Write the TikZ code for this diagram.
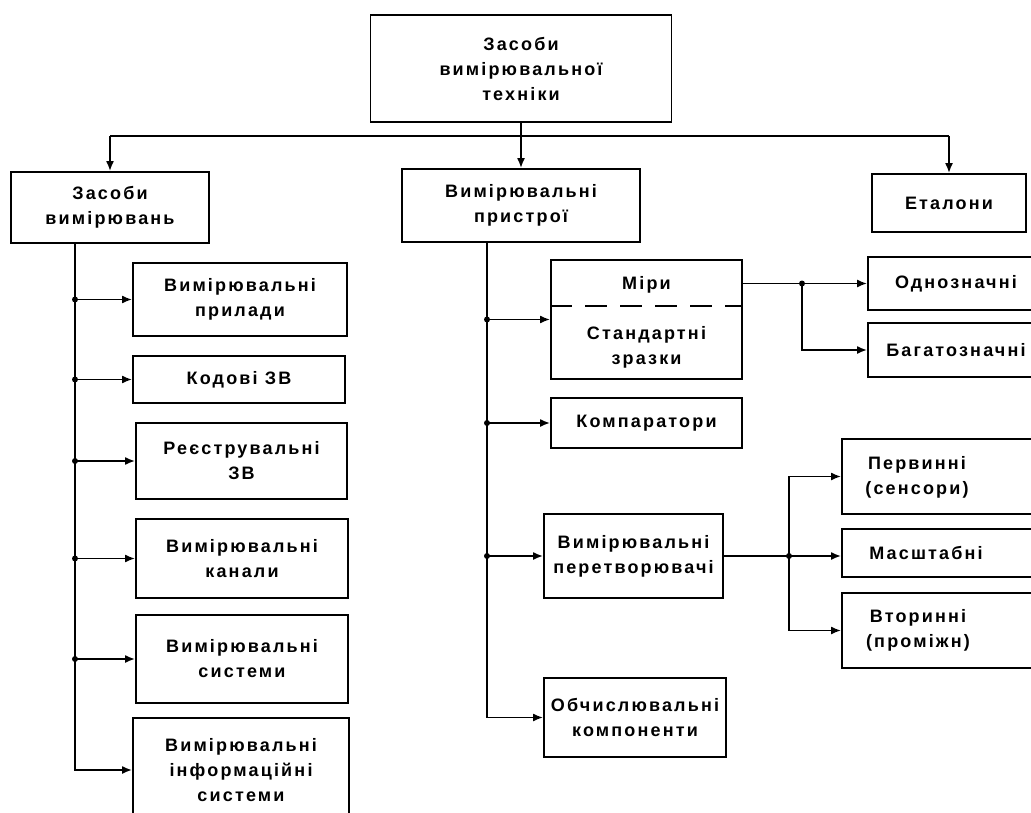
\documentclass[tikz,border=0pt]{standalone}
\usepackage{fontspec}
\setmainfont{Liberation Sans}[LetterSpace=12]
\usetikzlibrary{arrows.meta}
\begin{document}
\begin{tikzpicture}[x=1pt,y=-1pt,
  txt/.style={inner sep=0pt,align=center,font=\fontsize{18}{25}\selectfont\bfseries},
  box/.style={txt,draw,line width=1.8pt},
  ln/.style={line width=1.8pt},
  arr/.style={line width=1.8pt,-{Latex[length=10pt,width=8pt]}},
  jdot/.style={circle,fill,inner sep=0pt,minimum size=6pt}]
\useasboundingbox (0,0) rectangle (1031,813);
\clip (0,0) rectangle (1031,813);
% boxes
\node[box,minimum width=301pt,minimum height=107pt] (top) at (521,68.5) {Засоби\\вимірювальної\\техніки};
\node[box,minimum width=198pt,minimum height=71pt] (zv) at (110,207.5) {Засоби\\вимірювань};
\node[box,minimum width=238pt,minimum height=73pt] (vp) at (521,205.5) {Вимірювальні\\пристрої};
\node[box,minimum width=154pt,minimum height=58pt] (et) at (949,203) {Еталони};
\node[box,minimum width=214pt,minimum height=73pt] (L1) at (240,299.5) {Вимірювальні\\прилади};
\node[box,minimum width=212pt,minimum height=47pt] (L2) at (239,379.5) {Кодові ЗВ};
\node[box,minimum width=211pt,minimum height=76pt] (L3) at (241.5,461) {Реєструвальні\\ЗВ};
\node[box,minimum width=212pt,minimum height=79pt] (L4) at (242,558.5) {Вимірювальні\\канали};
\node[box,minimum width=212pt,minimum height=88pt] (L5) at (242,659) {Вимірювальні\\системи};
\node[box,minimum width=216pt,minimum height=104pt] (L6) at (241,770) {Вимірювальні\\інформаційні\\системи};
\node[box,minimum width=191pt,minimum height=119pt] (miry) at (646.5,319.5) {};
\node[txt] (miryT) at (646.5,285) {Міри};
\node[txt] (stT) at (646.5,347) {Стандартні\\зразки};
\node[box,minimum width=191pt,minimum height=50pt] (komp) at (646.5,423) {Компаратори};
\node[box,minimum width=179pt,minimum height=84pt] (pt) at (633.5,556) {Вимірювальні\\перетворювачі};
\node[box,minimum width=182pt,minimum height=79pt] (obch) at (635,717.5) {Обчислювальні\\компоненти};
\node[box,minimum width=176pt,minimum height=53pt] (odn) at (956,283.5) {Однозначні};
\node[box,minimum width=176pt,minimum height=54pt] (bag) at (956,350) {Багатозначні};
\node[box,minimum width=206pt,minimum height=75pt] (perv) at (945,476.5) {};
\node[txt] (pervT) at (917,477) {Первинні\\(сенсори)};
\node[box,minimum width=206pt,minimum height=48pt] (mas) at (945,553) {};
\node[txt] (masT) at (926,553) {Масштабні};
\node[box,minimum width=206pt,minimum height=75pt] (vtor) at (945,630.5) {};
\node[txt] (vtorT) at (918,630) {Вторинні\\(проміжн)};
% dashed divider
\coordinate (dashY) at (0,306);
\draw[ln,dash pattern=on 22pt off 13pt] (miry.west |- dashY) -- (miry.east |- dashY);
% top connectors
\coordinate (busL) at (110,136);
\coordinate (busR) at (949,136);
\draw[ln] (busL) -- (busR);
\draw[arr] (top.south) -- (vp.north);
\draw[arr] (busL) -- (zv.north);
\draw[arr] (busR) -- (et.north);
% left trunk
\coordinate (tL) at (75,0);
\draw[arr] (zv.south -| tL) |- (L6.west);
\foreach \n in {L1,L2,L3,L4,L5}{
  \draw[arr] (tL |- \n.west) -- (\n.west);
  \node[jdot] (d\n) at (tL |- \n.west) {};
}
% middle trunk
\coordinate (tM) at (487,0);
\draw[arr] (vp.south -| tM) |- (obch.west);
\foreach \n in {miry,komp,pt}{
  \draw[arr] (tM |- \n.west) -- (\n.west);
  \node[jdot] (d\n) at (tM |- \n.west) {};
}
% Міри branches
\coordinate (jM) at (802,0);
\draw[arr] (miry.east |- odn.west) -- (odn.west);
\draw[arr] (jM |- odn.west) |- (bag.west);
\node[jdot] (dM) at (jM |- odn.west) {};
% перетворювачі branches
\coordinate (jP) at (789,0);
\draw[arr] (pt.east) -- (pt.east -| mas.west);
\draw[arr] (jP |- pt.east) |- (perv.west);
\draw[arr] (jP |- pt.east) |- (vtor.west);
\node[jdot] (dP) at (jP |- pt.east) {};
\end{tikzpicture}
\end{document}
